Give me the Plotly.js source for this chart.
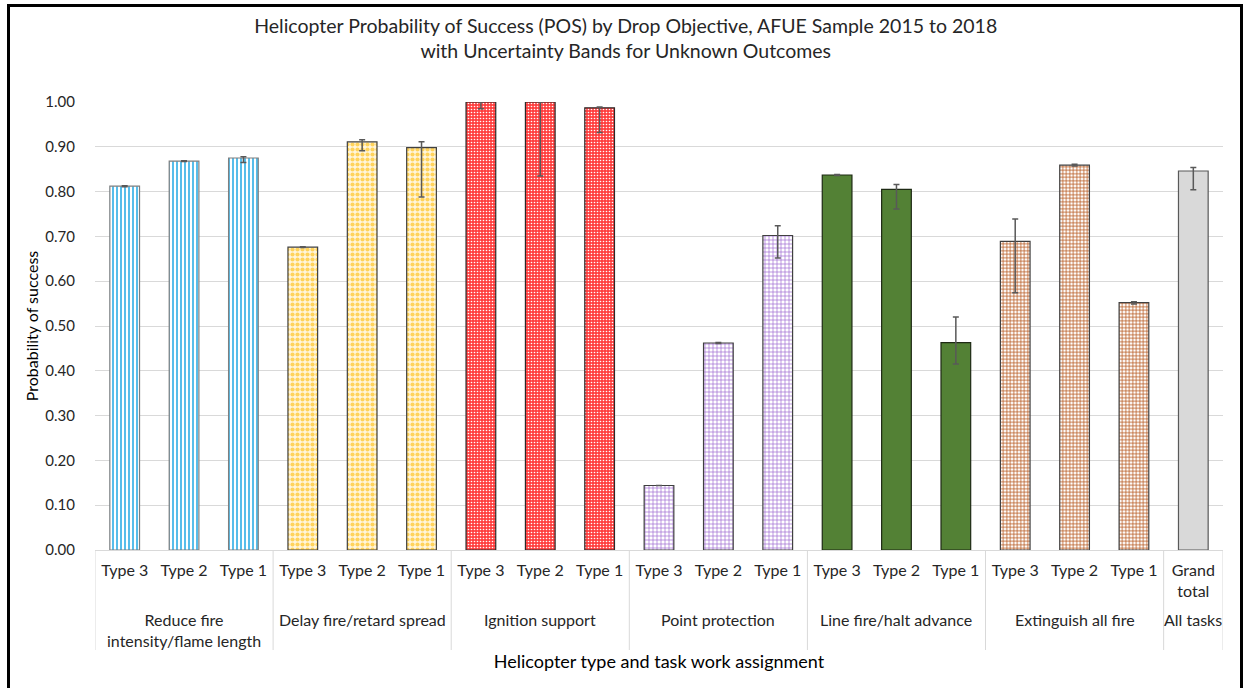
<!DOCTYPE html>
<html>
<head>
<meta charset="utf-8">
<script src="https://cdn.plot.ly/plotly-3.0.1.min.js"></script>
<style>
html,body{margin:0;padding:0;background:#fff;}
#wrap{position:relative;width:1244px;height:688px;overflow:hidden;}
#chart{width:1244px;height:688px;}
#frame{position:absolute;left:7px;top:4px;width:1230px;height:700px;border:3px solid #000;pointer-events:none;}
</style>
</head>
<body>
<div id="wrap"><div id="chart"></div><div id="frame"></div></div>
<script>
// ---- data ----
const taskGroups = [
  "Reduce fire<br>intensity/flame length",
  "Delay fire/retard spread",
  "Ignition support",
  "Point protection",
  "Line fire/halt advance",
  "Extinguish all fire",
  "All tasks"
];
const heliTypes = ["Type 3", "Type 2", "Type 1"];
const grandLabel = ["Grand<br>total"];

// probability of success per group (Type 3, Type 2, Type 1)
const posReduce     = [0.812, 0.868, 0.875];
const posDelay      = [0.676, 0.911, 0.898];
const posIgnition   = [1.000, 1.000, 0.987];
const posPoint      = [0.144, 0.462, 0.702];
const posLine       = [0.837, 0.805, 0.463];
const posExtinguish = [0.689, 0.859, 0.552];
const posGrand      = [0.846];

// uncertainty bands: upper and lower extents
const errUpReduce     = [0.001, 0.001, 0.003];
const errDnReduce     = [0.001, 0.001, 0.010];
const errUpDelay      = [0.001, 0.005, 0.013];
const errDnDelay      = [0.001, 0.020, 0.110];
const errUpIgnition   = [0.000, 0.000, 0.002];
const errDnIgnition   = [0.015, 0.165, 0.055];
const errUpPoint      = [0.000, 0.001, 0.022];
const errDnPoint      = [0.000, 0.001, 0.050];
const errUpLine       = [0.001, 0.011, 0.057];
const errDnLine       = [0.001, 0.044, 0.048];
const errUpExtinguish = [0.050, 0.002, 0.002];
const errDnExtinguish = [0.115, 0.002, 0.003];
const errUpGrand      = [0.008];
const errDnGrand      = [0.042];

const yTicks = [0,0.1,0.2,0.3,0.4,0.5,0.6,0.7,0.8,0.9,1.0];

// ---- styles ----
const FONT = "Lato, 'Open Sans', sans-serif";
const errStyle = {color:'#595959', thickness:1.5, width:3};
const outline = {color:'#404040', width:1.2};

const groupDefs = [
  {types:heliTypes, vals:posReduce, up:errUpReduce, dn:errDnReduce,
   marker:{color:'#ffffff', line:{color:'#7f7f7f', width:1.2}, pattern:{shape:'|', fgcolor:'#45b6e8', bgcolor:'#ffffff', size:4, solidity:0.45}}},
  {types:heliTypes, vals:posDelay, up:errUpDelay, dn:errDnDelay,
   marker:{color:'#ffffff', line:outline, pattern:{shape:'.', fgcolor:'#ffd35c', bgcolor:'#fff6dc', size:5, solidity:0.55}}},
  {types:heliTypes, vals:posIgnition, up:errUpIgnition, dn:errDnIgnition,
   marker:{color:'#ff4a4a', line:{color:'#2a2a2a', width:1.2}, pattern:{shape:'.', fgcolor:'#ffffff', bgcolor:'#ff4040', size:3, solidity:0.22}}},
  {types:heliTypes, vals:posPoint, up:errUpPoint, dn:errDnPoint,
   marker:{color:'#ffffff', line:outline, pattern:{shape:'+', fgcolor:'#9a63cf', bgcolor:'#ffffff', size:4, solidity:0.3}}},
  {types:heliTypes, vals:posLine, up:errUpLine, dn:errDnLine,
   marker:{color:'#538135', line:{color:'#1e2a14', width:1.2}}},
  {types:heliTypes, vals:posExtinguish, up:errUpExtinguish, dn:errDnExtinguish,
   marker:{color:'#ffffff', line:outline, pattern:{shape:'+', fgcolor:'#b5561c', bgcolor:'#ffffff', size:3.5, solidity:0.4}}},
  {types:grandLabel, vals:posGrand, up:errUpGrand, dn:errDnGrand,
   marker:{color:'#d9d9d9', line:{color:'#595959', width:1.2}}}
];

const traces = [];
const tickVals = [], tickText = [];
const annotations = [];
const shapes = [];
const rowTop = -58/448;    // group label row (paper units below axis)
const divLen = -100/448;   // divider length below axis
let idx = 0;
groupDefs.forEach((g, gi) => {
  const xs = g.types.map((t, k) => idx + k);
  xs.forEach((x, k) => { tickVals.push(x); tickText.push(g.types[k]); });
  traces.push({
    type:'bar', x:xs, y:g.vals, marker:g.marker,
    error_y:Object.assign({type:'data', symmetric:false, array:g.up, arrayminus:g.dn, visible:true}, errStyle),
    hoverinfo:'skip', showlegend:false
  });
  annotations.push({
    xref:'x', yref:'paper', x:(xs[0] + xs[xs.length-1]) / 2, y:rowTop,
    xanchor:'center', yanchor:'top', showarrow:false, text:taskGroups[gi],
    font:{family:FONT, size:16, color:'#262626'}
  });
  shapes.push({type:'line', xref:'x', yref:'paper', x0:idx-0.5, x1:idx-0.5, y0:0, y1:divLen,
    line:{color:'#d9d9d9', width:1}});
  idx += g.types.length;
});
shapes.push({type:'line', xref:'x', yref:'paper', x0:idx-0.5, x1:idx-0.5, y0:0, y1:divLen,
  line:{color:'#d9d9d9', width:1}});

const layout = {
  width:1244, height:688,
  paper_bgcolor:'#ffffff', plot_bgcolor:'#ffffff',
  margin:{l:95, r:21, t:102, b:138},
  barmode:'overlay',
  bargap:0.5,
  font:{family:FONT, color:'#262626', size:15},
  title:{
    text:'Helicopter Probability of Success (POS) by Drop Objective, AFUE Sample 2015 to 2018<br>with Uncertainty Bands for Unknown Outcomes',
    font:{family:FONT, size:19.5, color:'#262626'},
    x:0.503, xanchor:'center', y:0.952, yanchor:'top'
  },
  xaxis:{
    type:'linear',
    range:[-0.5, idx-0.5],
    tickmode:'array', tickvals:tickVals, ticktext:tickText,
    showgrid:false, zeroline:false,
    showline:true, linecolor:'#d9d9d9', linewidth:1,
    ticks:'outside', ticklen:6, tickcolor:'rgba(0,0,0,0)',
    tickfont:{family:FONT, size:16, color:'#262626'},
    title:{text:'Helicopter type and task work assignment', font:{family:FONT, size:18, color:'#000000'}, standoff:56},
    fixedrange:true
  },
  yaxis:{
    range:[0,1.0],
    tickvals:yTicks,
    tickformat:'.2f',
    showgrid:true, gridcolor:'#d9d9d9', gridwidth:1,
    zeroline:true, zerolinecolor:'#d9d9d9', zerolinewidth:1,
    showline:false,
    ticks:'outside', ticklen:16, tickcolor:'rgba(0,0,0,0)',
    tickfont:{family:FONT, size:15, color:'#262626'},
    title:{text:'Probability of success', font:{family:FONT, size:16, color:'#000000'}, standoff:2},
    fixedrange:true
  },
  annotations:annotations,
  shapes:shapes
};

Plotly.newPlot('chart', traces, layout, {displayModeBar:false, staticPlot:true});
</script>
</body>
</html>
